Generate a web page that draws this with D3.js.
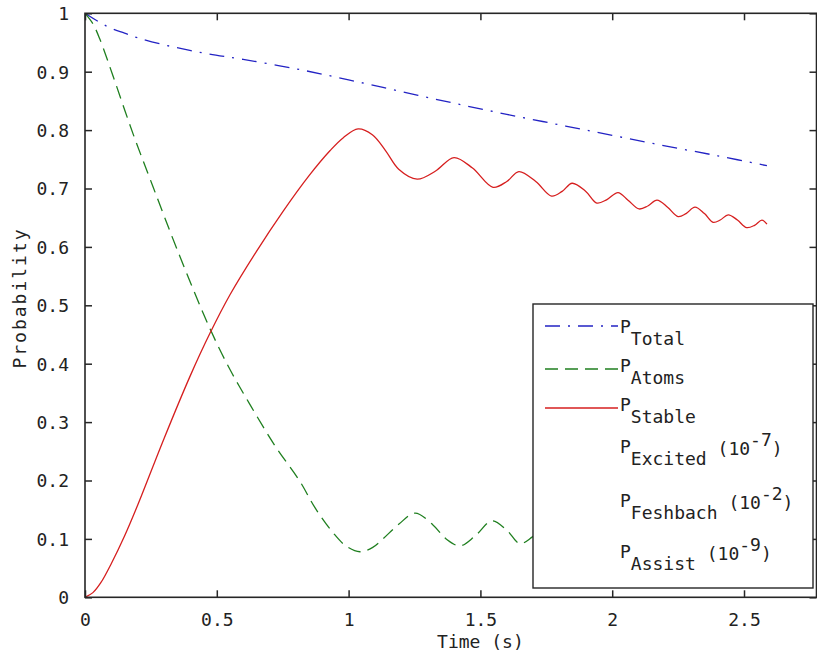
<!DOCTYPE html>
<html>
<head>
<meta charset="utf-8">
<script src="https://cdn.jsdelivr.net/npm/d3@7"></script>
<style>
  html, body { margin: 0; padding: 0; background: #fff; }
  svg { display: block; }
  text { font-family: "DejaVu Sans Mono", monospace; fill: #222; }
</style>
</head>
<body>
<svg id="chart" width="817" height="661"></svg>
<script>
// ---- data ----
const xTicks = [0, 0.5, 1, 1.5, 2, 2.5];
const xTickLabels = ["0", "0.5", "1", "1.5", "2", "2.5"];
const yTicks = [0, 0.1, 0.2, 0.3, 0.4, 0.5, 0.6, 0.7, 0.8, 0.9, 1];
const yTickLabels = ["0", "0.1", "0.2", "0.3", "0.4", "0.5", "0.6", "0.7", "0.8", "0.9", "1"];

const tTotal = [0, 0.05, 0.1, 0.15, 0.2, 0.3, 0.45, 0.6, 0.8, 1.0, 1.2, 1.4, 1.6, 1.8, 2.0, 2.2, 2.4, 2.587];
const pTotal = [1, 0.986, 0.974, 0.966, 0.958, 0.946, 0.932, 0.921, 0.905, 0.886, 0.866, 0.846, 0.827, 0.809, 0.791, 0.773, 0.756, 0.739];

const tAtoms = [0, 0.03, 0.057, 0.106, 0.182, 0.258, 0.35, 0.474, 0.55, 0.626, 0.72, 0.816, 0.873, 0.942, 0.99, 1.043, 1.09, 1.13, 1.19, 1.252, 1.32, 1.37, 1.423, 1.48, 1.544, 1.60, 1.65, 1.696, 1.74];
const pAtoms = [1, 0.982, 0.955, 0.893, 0.794, 0.703, 0.595, 0.46, 0.39, 0.33, 0.26, 0.198, 0.153, 0.110, 0.088, 0.078, 0.085, 0.100, 0.125, 0.144, 0.124, 0.100, 0.088, 0.105, 0.131, 0.115, 0.092, 0.103, 0.120];

const tStable = [0, 0.03, 0.06, 0.1, 0.15, 0.2, 0.3, 0.4, 0.474, 0.55, 0.65, 0.75, 0.85, 0.93, 0.98, 1.036, 1.09, 1.14, 1.19, 1.26, 1.33, 1.40, 1.47, 1.548, 1.60, 1.646, 1.71, 1.77, 1.81, 1.848, 1.9, 1.942, 1.98, 2.022, 2.06, 2.102, 2.135, 2.17, 2.21, 2.25, 2.28, 2.314, 2.35, 2.383, 2.41, 2.44, 2.475, 2.51, 2.54, 2.568, 2.587];
const pStable = [0, 0.008, 0.025, 0.058, 0.105, 0.158, 0.272, 0.38, 0.452, 0.518, 0.592, 0.66, 0.722, 0.765, 0.787, 0.802, 0.792, 0.765, 0.733, 0.716, 0.73, 0.753, 0.735, 0.702, 0.712, 0.729, 0.712, 0.687, 0.695, 0.709, 0.695, 0.675, 0.681, 0.693, 0.68, 0.665, 0.670, 0.680, 0.668, 0.652, 0.657, 0.668, 0.657, 0.642, 0.646, 0.655, 0.646, 0.633, 0.637, 0.646, 0.639];

const legendNames = ["Total", "Atoms", "Stable", "Excited", "Feshbach", "Assist"];
const legendExponents = [null, null, null, "-7", "-2", "-9"];

// ---- layout ----
const svg = d3.select("#chart");
const L = 85, R = 816.5, T = 13.3, B = 597.3;
const x = d3.scaleLinear().domain([0, 2.775]).range([L, R]);
const y = d3.scaleLinear().domain([0, 1]).range([B, T]);

svg.append("rect").attr("width", 817).attr("height", 661).attr("fill", "#fff");

const series = [
  { t: tTotal, p: pTotal, color: "#2323c4", dash: "15,8,2,8" },
  { t: tAtoms, p: pAtoms, color: "#1f7f1f", dash: "13,7" },
  { t: tStable, p: pStable, color: "#d61f1f", dash: null }
];

const line = d3.line().curve(d3.curveCatmullRom.alpha(0.5)).x(d => x(d[0])).y(d => y(d[1]));

svg.append("defs").append("clipPath").attr("id", "clip")
  .append("rect").attr("x", L).attr("y", T).attr("width", R - L).attr("height", B - T);

const plotG = svg.append("g").attr("clip-path", "url(#clip)");
series.forEach(s => {
  plotG.append("path")
    .datum(s.t.map((t, i) => [t, s.p[i]]))
    .attr("d", line)
    .attr("fill", "none")
    .attr("stroke", s.color)
    .attr("stroke-width", 1.3)
    .attr("stroke-dasharray", s.dash);
});

// axes (box with inward ticks on all four sides)
const tickLen = 7;
const axisColor = "#262626";
const fmtX = d => xTickLabels[xTicks.indexOf(d)];
const fmtY = d => yTickLabels[yTicks.indexOf(d)];

const gBottom = svg.append("g").attr("transform", `translate(0,${B})`)
  .call(d3.axisBottom(x).tickValues(xTicks).tickFormat(fmtX).tickSizeInner(-tickLen).tickSizeOuter(0).tickPadding(16));
const gTop = svg.append("g").attr("transform", `translate(0,${T})`)
  .call(d3.axisTop(x).tickValues(xTicks).tickFormat("").tickSizeInner(-tickLen).tickSizeOuter(0));
const gLeft = svg.append("g").attr("transform", `translate(${L},0)`)
  .call(d3.axisLeft(y).tickValues(yTicks).tickFormat(fmtY).tickSizeInner(-tickLen).tickSizeOuter(0).tickPadding(16));
const gRight = svg.append("g").attr("transform", `translate(${R},0)`)
  .call(d3.axisRight(y).tickValues(yTicks).tickFormat("").tickSizeInner(-tickLen).tickSizeOuter(0));

[gBottom, gTop, gLeft, gRight].forEach(g => {
  g.select(".domain").remove();
  g.selectAll(".tick line").attr("stroke", axisColor).attr("stroke-width", 1.5);
  g.selectAll(".tick text").attr("font-size", 18).attr("font-family", "DejaVu Sans Mono").attr("fill", "#222");
});
gLeft.selectAll(".tick text").attr("dy", "0.36em");

svg.append("rect").attr("x", L).attr("y", T).attr("width", R - L).attr("height", B - T)
  .attr("fill", "none").attr("stroke", axisColor).attr("stroke-width", 1.6);

// axis titles
svg.append("text").attr("x", x(1.5)).attr("y", 648)
  .attr("text-anchor", "middle").attr("font-size", 18).text("Time (s)");
svg.append("text").attr("transform", "translate(26,298) rotate(-90)")
  .attr("text-anchor", "middle").attr("font-size", 18).attr("letter-spacing", 2).text("Probability");

// legend
const lg = svg.append("g");
lg.append("rect").attr("x", 533).attr("y", 304).attr("width", 280).attr("height", 284)
  .attr("fill", "#fff").attr("stroke", axisColor).attr("stroke-width", 1.4);

const rowBase = [333, 372, 411, 453, 507, 558];
const lineY = [326, 369, 408];
series.forEach((s, i) => {
  lg.append("line").attr("x1", 545).attr("x2", 618).attr("y1", lineY[i]).attr("y2", lineY[i])
    .attr("stroke", s.color).attr("stroke-width", 1.3).attr("stroke-dasharray", s.dash);
});
legendNames.forEach((name, i) => {
  const t = lg.append("text").attr("x", 620).attr("y", rowBase[i]).attr("font-size", 18);
  t.append("tspan").text("P");
  t.append("tspan").attr("dy", 12).text(name);
  if (legendExponents[i]) {
    t.append("tspan").attr("dy", -10).text(" (10");
    t.append("tspan").attr("dy", -9).text(legendExponents[i]);
    t.append("tspan").attr("dy", 9).text(")");
  }
});
</script>
</body>
</html>
